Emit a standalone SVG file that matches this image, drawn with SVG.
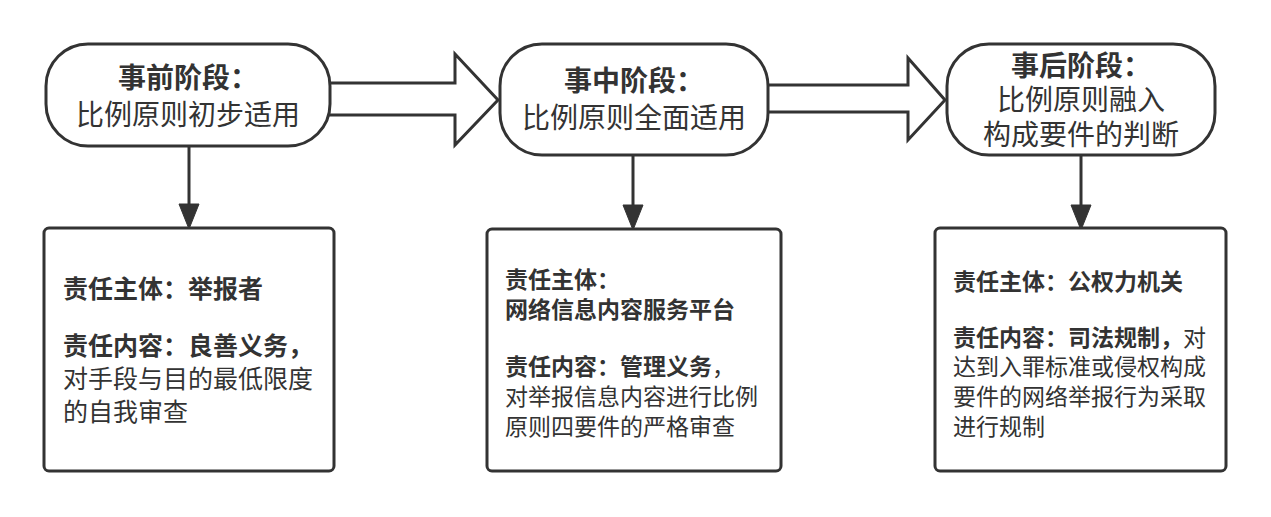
<svg xmlns="http://www.w3.org/2000/svg" width="1271" height="517" viewBox="0 0 1271 517">
<style>
.shape{fill:#fff;stroke:#333;stroke-width:3}
.ln{stroke:#333;stroke-width:3;fill:none}
.head{fill:#333;stroke:#333;stroke-width:1}
text{font-family:"Liberation Sans","Noto Sans CJK SC",sans-serif;fill:#333}
.t{font-size:28px;text-anchor:middle}
.b{font-weight:bold}
.s1{font-size:25px}
.s2{font-size:23px}
</style>
<rect width="1271" height="517" fill="#fff"/>
<g id="connectors">
<polygon class="shape" points="320,83 455,83 455,54 498,100 455,145 455,115 320,115"/>
<polygon class="shape" points="758,85 908,85 908,58 945,100 908,140 908,112 758,112"/>
<line class="ln" x1="189" y1="146" x2="189" y2="206"/>
<polygon class="head" points="179,204 199,204 189,229"/>
<line class="ln" x1="633" y1="155" x2="633" y2="207"/>
<polygon class="head" points="623,205 643,205 633,230"/>
<line class="ln" x1="1081" y1="155" x2="1081" y2="207"/>
<polygon class="head" points="1071,205 1091,205 1081,230"/>
</g>
<g id="node-pre">
<rect class="shape" x="46" y="44" width="284" height="102" rx="42"/>
<text class="t b" x="188" y="88">事前阶段：</text>
<text class="t" x="188" y="125">比例原则初步适用</text>
</g>
<g id="node-mid">
<rect class="shape" x="500" y="44" width="268" height="111" rx="42"/>
<text class="t b" x="634" y="91">事中阶段：</text>
<text class="t" x="634" y="128">比例原则全面适用</text>
</g>
<g id="node-post">
<rect class="shape" x="947" y="44" width="268" height="111" rx="42"/>
<text class="t b" x="1081" y="76">事后阶段：</text>
<text class="t" x="1081" y="110">比例原则融入</text>
<text class="t" x="1081" y="145">构成要件的判断</text>
</g>
<g id="box-pre">
<rect class="shape" x="44" y="228" width="290" height="243" rx="5"/>
<text class="s1 b" x="63" y="298">责任主体：举报者</text>
<text class="s1 b" x="63" y="355">责任内容：良善义务，</text>
<text class="s1" x="63" y="388">对手段与目的最低限度</text>
<text class="s1" x="63" y="421">的自我审查</text>
</g>
<g id="box-mid">
<rect class="shape" x="487" y="229" width="294" height="242" rx="5"/>
<text class="s2 b" x="505" y="288">责任主体：</text>
<text class="s2 b" x="505" y="318">网络信息内容服务平台</text>
<text class="s2" x="505" y="375"><tspan class="b">责任内容：管理义务</tspan>，</text>
<text class="s2" x="505" y="405">对举报信息内容进行比例</text>
<text class="s2" x="505" y="435">原则四要件的严格审查</text>
</g>
<g id="box-post">
<rect class="shape" x="935" y="228" width="291" height="243" rx="5"/>
<text class="s2 b" x="953" y="290">责任主体：公权力机关</text>
<text class="s2" x="953" y="346"><tspan class="b">责任内容：司法规制，</tspan>对</text>
<text class="s2" x="953" y="375">达到入罪标准或侵权构成</text>
<text class="s2" x="953" y="405">要件的网络举报行为采取</text>
<text class="s2" x="953" y="435">进行规制</text>
</g>
</svg>
